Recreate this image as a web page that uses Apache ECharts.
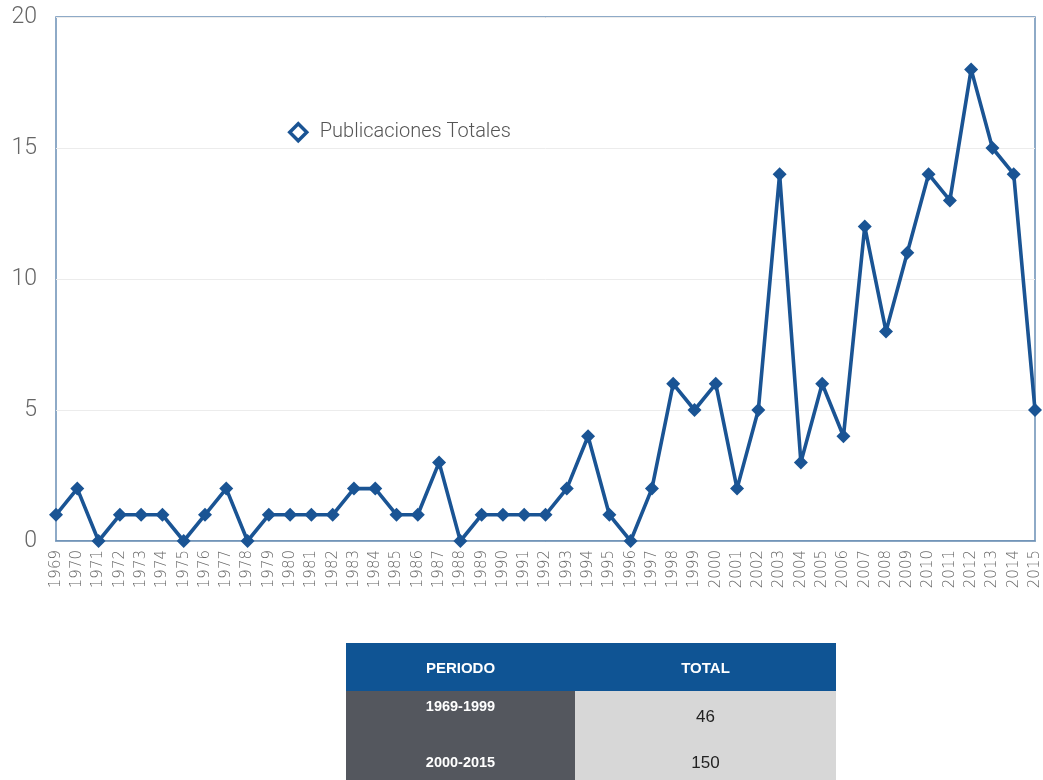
<!DOCTYPE html>
<html>
<head>
<meta charset="utf-8">
<script src="https://cdn.jsdelivr.net/npm/echarts@6/dist/echarts.min.js"></script>
<style>
  html, body { margin: 0; padding: 0; background: #fff; }
  #chart { width: 1043px; height: 780px; }
</style>
</head>
<body>
<div id="chart"></div>
<script>
// Yearly publication counts
const years = ['1969','1970','1971','1972','1973','1974','1975','1976','1977','1978',
  '1979','1980','1981','1982','1983','1984','1985','1986','1987','1988',
  '1989','1990','1991','1992','1993','1994','1995','1996','1997','1998',
  '1999','2000','2001','2002','2003','2004','2005','2006','2007','2008',
  '2009','2010','2011','2012','2013','2014','2015'];
const totals = [1,2,0,1,1,1,0,1,2,0,
  1,1,1,1,2,2,1,1,3,0,
  1,1,1,1,2,4,1,0,2,6,
  5,6,2,5,14,3,6,4,12,8,
  11,14,13,18,15,14,5];
const seriesName = 'Publicaciones Totales';

// Summary table
const tableHeaders = ['PERIODO', 'TOTAL'];
const periods = ['1969-1999', '2000-2015'];
const periodTotals = ['46', '150'];

const blue = '#1a5494';
const font = '"Liberation Sans", "DejaVu Sans", sans-serif';
const lightFont = 'Roboto, "Open Sans", sans-serif';

// Table geometry
const tx0 = 346, tx1 = 575, tx2 = 836;
const headTop = 643, headBottom = 691, tableBottom = 780;

function cellText(x, y, text, fill, f) {
  return { type: 'text', x: x, y: y,
    style: { text: text, fill: fill, font: f, textAlign: 'center', textVerticalAlign: 'middle' } };
}

const colA = (tx0 + tx1) / 2, colB = (tx1 + tx2) / 2;
const graphics = [
  { type: 'rect', shape: { x: tx0, y: headTop, width: tx2 - tx0, height: headBottom - headTop },
    style: { fill: '#0f5494' } },
  { type: 'rect', shape: { x: tx0, y: headBottom, width: tx1 - tx0, height: tableBottom - headBottom },
    style: { fill: '#54575e' } },
  { type: 'rect', shape: { x: tx1, y: headBottom, width: tx2 - tx1, height: tableBottom - headBottom },
    style: { fill: '#d7d7d7' } },
  cellText(colA, 669, tableHeaders[0], '#fff', 'bold 15px ' + font),
  cellText(colB, 669, tableHeaders[1], '#fff', 'bold 15px ' + font),
  cellText(colA, 707, periods[0], '#fff', 'bold 14.5px ' + font),
  cellText(colB, 717, periodTotals[0], '#222', '17px ' + font),
  cellText(colA, 763, periods[1], '#fff', 'bold 14.5px ' + font),
  cellText(colB, 763, periodTotals[1], '#222', '17px ' + font)
];

const chart = echarts.init(document.getElementById('chart'), null, { renderer: 'canvas' });
chart.setOption({
  backgroundColor: '#fff',
  animation: false,
  grid: {
    left: 56, right: 8, top: 17, bottom: 239,
    show: true, borderColor: '#6a8fb5', borderWidth: 1.5
  },
  legend: {
    left: 283, top: 117,
    icon: 'diamond',
    itemWidth: 17, itemHeight: 17, itemGap: 0,
    itemStyle: { color: '#fff', borderColor: blue, borderWidth: 3.5 },
    textStyle: { fontFamily: lightFont, fontWeight: 300, fontSize: 20, color: '#555', padding: [0, 0, 0, 8] },
    data: [seriesName]
  },
  xAxis: {
    type: 'category',
    data: years,
    boundaryGap: false,
    axisLine: { show: true, lineStyle: { color: '#6a8fb5', width: 1.5 } },
    axisTick: { show: false },
    axisLabel: {
      rotate: 90, interval: 0, margin: 9,
      fontFamily: '"DejaVu Sans", sans-serif', fontWeight: 200, fontSize: 15, color: '#666'
    },
    splitLine: { show: false }
  },
  yAxis: {
    type: 'value',
    min: 0, max: 20, interval: 5,
    axisLine: { show: false },
    axisTick: { show: false },
    axisLabel: {
      margin: 19,
      fontFamily: lightFont, fontWeight: 300, fontSize: 23, color: '#666'
    },
    splitLine: { show: true, lineStyle: { color: '#ececec', width: 1 } }
  },
  series: [{
    name: seriesName,
    type: 'line',
    data: totals,
    symbol: 'diamond',
    symbolSize: 14,
    lineStyle: { color: blue, width: 3.6 },
    itemStyle: { color: blue },
    clip: false
  }],
  graphic: graphics
});
</script>
</body>
</html>
